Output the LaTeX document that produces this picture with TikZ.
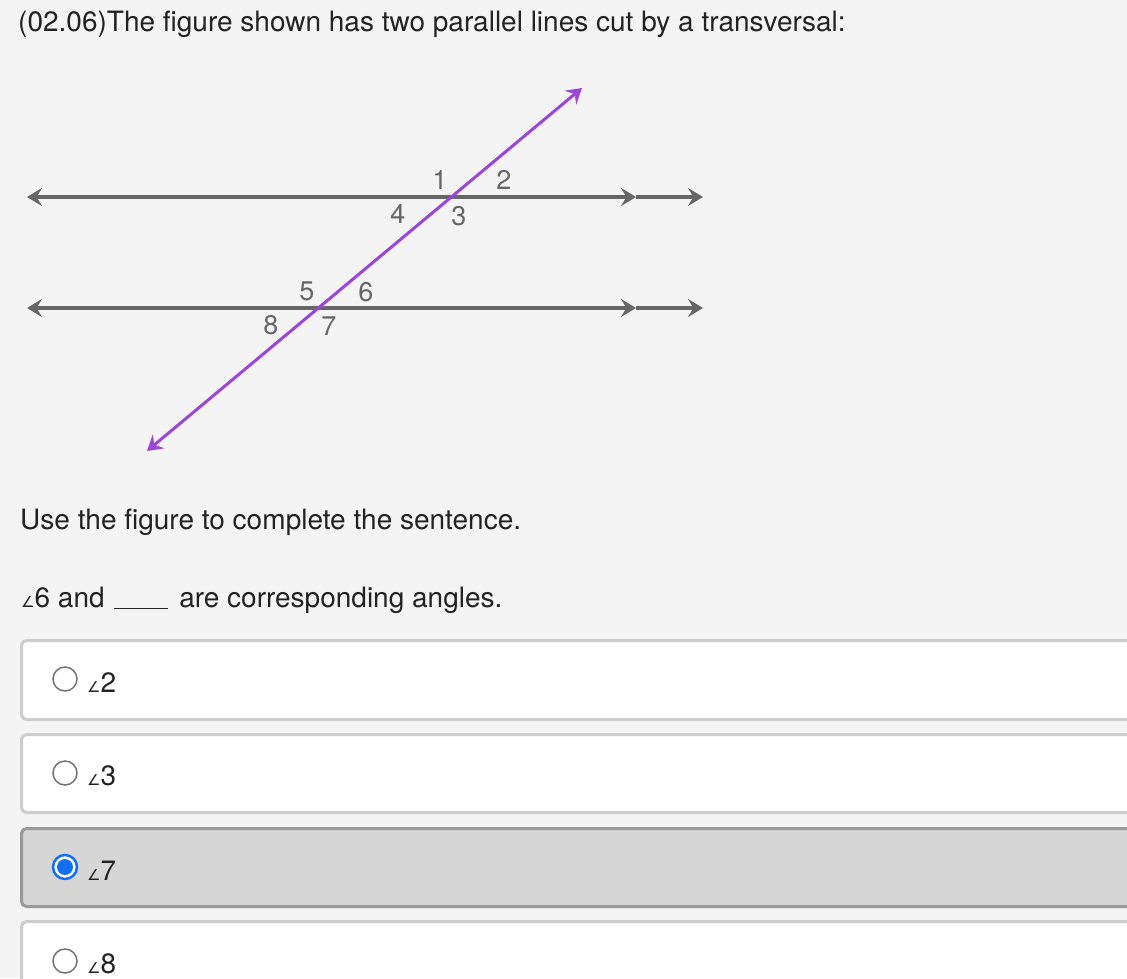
\documentclass[tikz,border=0pt]{standalone}
\usepackage{fontspec}
\setmainfont{TeX Gyre Heros}
\newfontfamily\symfont{DejaVu Sans}
\usepackage{xcolor}
\usepackage{tikz}
\usetikzlibrary{arrows.meta, positioning}

\definecolor{pagebg}{HTML}{F4F4F4}
\definecolor{ink}{HTML}{222222}
\definecolor{linegray}{HTML}{666666}
\definecolor{transpurple}{HTML}{9B45D9}
\definecolor{boxedge}{HTML}{CDCDCD}
\definecolor{seledge}{HTML}{9A9A9A}
\definecolor{selfill}{HTML}{D6D6D6}
\definecolor{selblue}{HTML}{1270F0}

\newcommand{\angsym}{{\symfont\fontsize{15}{15}\selectfont ∠}}

\begin{document}
\begin{tikzpicture}[
    x=1pt, y=-1pt,
    >={Stealth[length=15pt, width=18pt, inset=5.5pt]},
    txt/.style={anchor=base west, inner sep=0pt, text=ink, font=\fontsize{28}{34}\selectfont},
    lbl/.style={inner sep=0pt, text=linegray, font=\fontsize{27}{27}\selectfont},
    parline/.style={draw=linegray, line width=3.5pt},
    transline/.style={draw=transpurple, line width=3pt},
    optbox/.style={draw=boxedge, fill=white, line width=3pt, rounded corners=5pt},
    selbox/.style={draw=seledge, fill=selfill, line width=3pt, rounded corners=5pt},
    radio/.style={circle, draw=gray!90!black, fill=white, line width=1.5pt, minimum size=24pt, inner sep=0pt},
    radiosel/.style={circle, draw=selblue, fill=white, line width=2.5pt, minimum size=24pt, inner sep=0pt},
    dot/.style={circle, fill=selblue, minimum size=16pt, inner sep=0pt}
]
\clip (0,0) rectangle (1127,978);
\fill[pagebg] (0,0) rectangle (1127,978);

% question text
\node[txt] (title) at (18,31) {(02.06)The figure shown has two parallel lines cut by a transversal:};

% the figure
\coordinate (topL) at (27,197);
\coordinate (topM) at (636,197);
\coordinate (topR) at (703,197);
\coordinate (botL) at (27,308);
\coordinate (botM) at (636,308);
\coordinate (botR) at (703,308);
\coordinate (transA) at (147,451);
\coordinate (transB) at (582,88);

\draw[parline, <->] (topL) -- (topM);
\draw[parline, ->] (topM) -- (topR);
\draw[parline, <->] (botL) -- (botM);
\draw[parline, ->] (botM) -- (botR);
\draw[transline, <->] (transA) -- (transB);

\node[lbl] (a1) at (440,180) {1};
\node[lbl] (a2) at (504,180) {2};
\node[lbl] (a3) at (459,216) {3};
\node[lbl] (a4) at (398,214) {4};
\node[lbl] (a5) at (307,291) {5};
\node[lbl] (a6) at (366,292) {6};
\node[lbl] (a7) at (329,326) {7};
\node[lbl] (a8) at (271,325) {8};

\node[txt] (prompt) at (20,529) {Use the figure to complete the sentence.};
\node[txt] (sentence) at (21,607) {\angsym6 and\hspace{2pt} \rule[-2pt]{54pt}{1.4pt}\hspace{3pt} are corresponding angles.};

% answer choices
\draw[optbox] (21.5,640.5) rectangle (1150,719.5);
\draw[optbox] (21.5,734.5) rectangle (1150,812.5);
\draw[selbox] (21.5,828.5) rectangle (1150,906.5);
\draw[optbox] (21.5,921.5) rectangle (1150,1000);

\node[radio] (r2) at (65,679) {};
\node[txt] (opt2) at (87,692) {\angsym2};
\node[radio] (r3) at (65,773) {};
\node[txt] (opt3) at (87,785) {\angsym3};
\node[radiosel] (r7) at (65,867) {};
\node[dot] at (r7) {};
\node[txt] (opt7) at (87,880) {\angsym7};
\node[radio] (r8) at (65,961) {};
\node[txt] (opt8) at (87,973) {\angsym8};

\end{tikzpicture}
\end{document}
